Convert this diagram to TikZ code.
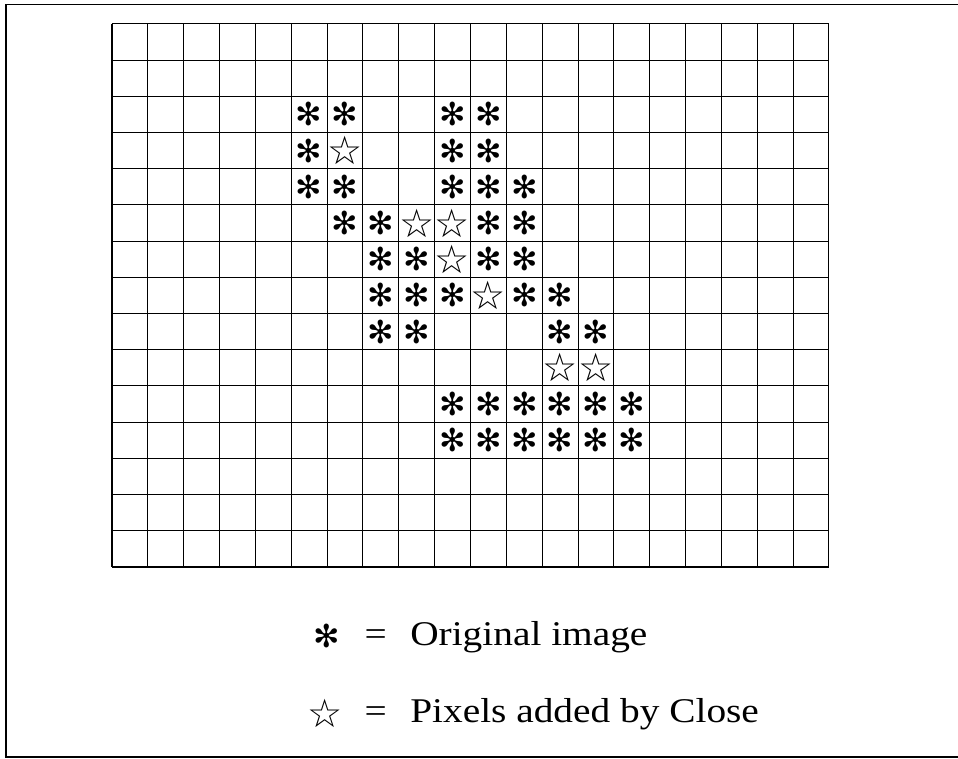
\documentclass[tikz,border=0pt]{standalone}
\usepackage{fontspec}
\newfontfamily\symfont{DejaVu Sans}
\newfontfamily\keyfont{Liberation Serif}[FakeStretch=1.135]
\usetikzlibrary{positioning}
\tikzstyle{gridlines} = [line width=0.8pt]
\tikzstyle{border} = [line width=1pt]
\tikzstyle{orig} = [inner sep=0pt, font=\symfont\fontsize{25}{25}\selectfont]
\tikzstyle{added} = [inner sep=0pt, font=\symfont\fontsize{31}{31}\selectfont]
\tikzstyle{keytext} = [inner sep=0pt, anchor=base west, font=\keyfont\fontsize{27.4}{30}\selectfont]
\begin{document}
\begin{tikzpicture}
    \useasboundingbox (0,0) rectangle (26.611,21.083);
    \draw [border] (26.7,20.958) -- (0.167,20.958) -- (0.167,0.056) -- (26.7,0.056);
    \begin{scope}[shift={(3.111,20.417)}, x=0.9958cm, y=-1.0056cm]
        \foreach \i in {0,...,20} \draw [gridlines] (\i,0) -- (\i,15);
        \foreach \j in {0,...,15} \draw [gridlines] (0,\j) -- (20,\j);
        % original pixels
        \foreach \c/\r in {5/2,6/2,9/2,10/2, 5/3,9/3,10/3, 5/4,6/4,9/4,10/4,11/4,
                           6/5,7/5,10/5,11/5, 7/6,8/6,10/6,11/6, 7/7,8/7,9/7,11/7,12/7,
                           7/8,8/8,12/8,13/8, 9/10,10/10,11/10,12/10,13/10,14/10,
                           9/11,10/11,11/11,12/11,13/11,14/11}
            \node (o-\c-\r)[orig] at (\c+0.5,\r+0.5) {✻};
        % pixels added by close
        \foreach \c/\r in {6/3, 8/5,9/5, 9/6, 10/7, 12/9,13/9}
            \node (s-\c-\r)[added] at (\c+0.5,\r+0.5) {☆};
    \end{scope}
    % key
    \node (txt1)[keytext] at (11.39,3.139) {Original image};
    \node (eq1)[keytext, left=0.64cm of txt1.base west, anchor=base east] {=};
    \node (sym1)[orig, left=0.67cm of eq1, yshift=0.06cm] {✻};
    \node (txt2)[keytext] at (11.39,1.0) {Pixels added by Close};
    \node (eq2)[keytext, left=0.64cm of txt2.base west, anchor=base east] {=};
    \node (sym2)[added, left=0.6cm of eq2, yshift=0.06cm] {☆};
\end{tikzpicture}
\end{document}
